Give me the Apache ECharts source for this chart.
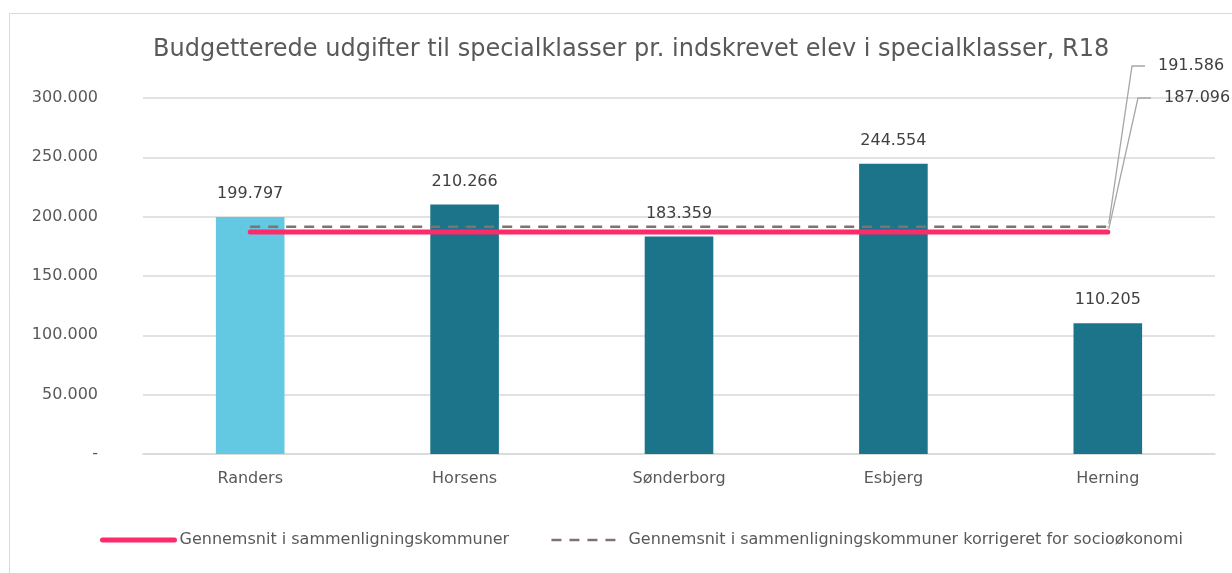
<!DOCTYPE html>
<html><head><meta charset="utf-8">
<script src="https://cdn.jsdelivr.net/npm/echarts@6/dist/echarts.min.js"></script>
<style>html,body{margin:0;padding:0;background:#fff}#c{width:1232px;height:573px}</style>
</head><body><div id="c"></div>
<script>
const titleText = 'Budgetterede udgifter til specialklasser pr. indskrevet elev i specialklasser, R18';
const categories = ['Randers', 'Horsens', 'Sønderborg', 'Esbjerg', 'Herning'];
const budgetValues = [199797, 210266, 183359, 244554, 110205];
const avgName = 'Gennemsnit i sammenligningskommuner';
const avgValues = [187096, 187096, 187096, 187096, 187096];
const avgCorrName = 'Gennemsnit i sammenligningskommuner korrigeret for socioøkonomi';
const avgCorrValues = [191586, 191586, 191586, 191586, 191586];
const yTicks = [0, 50000, 100000, 150000, 200000, 250000, 300000];

const FONT = 'DejaVu Sans';
const fmt = v => v === 0 ? '-' : Math.round(v).toString().replace(/\B(?=(\d{3})+(?!\d))/g, '.');
const last = categories.length - 1;
function lineData(vals) {
  return vals.map((v, i) => i === last ? { value: v, label: { show: true } } : v);
}
// end-label placement (text start x, middle y)
const avgLabelPos = [1164, 98];
const avgCorrLabelPos = [1158, 66];

const chart = echarts.init(document.getElementById('c'));
chart.setOption({
  animation: false,
  textStyle: { fontFamily: FONT },
  title: {
    text: titleText, left: 148, top: 33,
    textStyle: { fontFamily: FONT, fontSize: 24, fontWeight: 'normal', color: '#595959' }
  },
  graphic: [{
    id: 'border', type: 'rect', shape: { x: 9.5, y: 13.5, width: 1240, height: 600 },
    style: { fill: 'none', stroke: '#d9d9d9', lineWidth: 1 }, silent: true
  }],
  grid: { left: 143, right: 17, top: 98, bottom: 119, containLabel: false },
  legend: {
    left: 95, top: 527, itemGap: 41, itemWidth: 72, itemHeight: 14,
    textStyle: { fontFamily: FONT, fontSize: 16, color: '#595959' },
    itemStyle: { opacity: 0 },
    data: [
      { name: avgName, lineStyle: { width: 5 } },
      { name: avgCorrName, lineStyle: { width: 2.5 } }
    ]
  },
  xAxis: {
    type: 'category', data: categories,
    axisLine: { lineStyle: { color: '#d9d9d9', width: 1.5 } },
    axisTick: { show: false },
    axisLabel: { fontFamily: FONT, fontSize: 16, color: '#595959', margin: 17 }
  },
  yAxis: {
    type: 'value', min: yTicks[0], max: yTicks[yTicks.length - 1], interval: yTicks[1] - yTicks[0],
    axisLine: { show: false }, axisTick: { show: false },
    splitLine: { lineStyle: { color: '#d9d9d9', width: 1.5 } },
    axisLabel: { fontFamily: FONT, fontSize: 16, color: '#595959', margin: 45, formatter: fmt }
  },
  series: [
    {
      type: 'bar', data: budgetValues, barWidth: '32%',
      itemStyle: { color: p => p.dataIndex === 0 ? '#63C9E2' : '#1B7489' },
      label: { show: true, position: 'top', distance: 15, fontFamily: FONT, fontSize: 16, color: '#404040', formatter: p => fmt(p.value) },
      z: 2
    },
    {
      name: avgName, type: 'line', data: lineData(avgValues),
      symbol: 'circle', symbolSize: 1, showSymbol: true,
      lineStyle: { color: '#FF2A6A', width: 5, cap: 'round' },
      itemStyle: { color: '#FF2A6A' },
      label: { show: false, fontFamily: FONT, fontSize: 16, color: '#404040', formatter: p => fmt(p.value) },
      labelLayout: { x: avgLabelPos[0], y: avgLabelPos[1], align: 'left', verticalAlign: 'middle' },
      z: 4
    },
    {
      name: avgCorrName, type: 'line', data: lineData(avgCorrValues),
      symbol: 'circle', symbolSize: 1, showSymbol: true,
      lineStyle: { color: '#7F7370', width: 2.5, type: [10, 8] },
      itemStyle: { color: '#7F7370' },
      label: { show: false, fontFamily: FONT, fontSize: 16, color: '#404040', formatter: p => fmt(p.value) },
      labelLayout: { x: avgCorrLabelPos[0], y: avgCorrLabelPos[1], align: 'left', verticalAlign: 'middle' },
      z: 3
    }
  ]
});

// leader lines from the last data point (via the chart's own scales) to each end label
function leader(id, seriesIndex, vals, pos) {
  const pt = chart.convertToPixel({ seriesIndex: seriesIndex }, [last, vals[last]]);
  return {
    id: id, type: 'polyline', silent: true, z: 10,
    shape: { points: [[pt[0] + 1, pt[1] - 3], [pos[0] - 26, pos[1]], [pos[0] - 13, pos[1]]] },
    style: { stroke: '#a6a6a6', lineWidth: 1.3, fill: 'none' }
  };
}
chart.setOption({
  graphic: [
    leader('leadAvg', 1, avgValues, avgLabelPos),
    leader('leadAvgCorr', 2, avgCorrValues, avgCorrLabelPos)
  ]
});
</script></body></html>
